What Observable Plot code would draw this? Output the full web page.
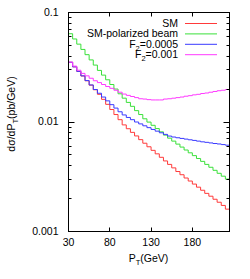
<!DOCTYPE html>
<html><head><meta charset="utf-8">
<script src="https://cdn.jsdelivr.net/npm/d3@7"></script>
<script src="https://cdn.jsdelivr.net/npm/@observablehq/plot@0.6"></script>
<style>body{margin:0;background:#fff} svg{display:block}</style>
</head><body><div id="c"></div>
<script>
// bin lower edges (GeV)
const pT = [30,35,40,45,50,55,60,65,70,75,80,85,90,95,100,105,110,115,120,125,130,135,140,145,150,155,160,165,170,175,180,185,190,195,200,205,210,215,220];
const sm = [0.0351,0.0319,0.0290,0.0263,0.0238,0.0217,0.0197,0.0179,0.0161,0.0145,0.0130,0.0117,0.0105,0.00941,0.00868,0.00804,0.00746,0.00690,0.00640,0.00594,0.00551,0.00512,0.00476,0.00441,0.00410,0.00381,0.00353,0.00330,0.00308,0.00289,0.00271,0.00254,0.00238,0.00223,0.00210,0.00197,0.00185,0.00173,0.00160];
const smPolarized = [0.0640,0.0573,0.0514,0.0460,0.0412,0.0369,0.0331,0.0296,0.0268,0.0243,0.0220,0.0200,0.0181,0.0165,0.0151,0.0139,0.0127,0.0117,0.0107,0.00998,0.00933,0.00871,0.00813,0.00759,0.00712,0.00669,0.00628,0.00590,0.00555,0.00523,0.00493,0.00464,0.00437,0.00410,0.00386,0.00362,0.00340,0.00320,0.00301];
const f2a = [0.0351,0.0319,0.0290,0.0264,0.0239,0.0218,0.0198,0.0183,0.0169,0.0156,0.0144,0.0134,0.0124,0.0116,0.0110,0.0105,0.0100,0.00961,0.00923,0.00888,0.00855,0.00825,0.00797,0.00771,0.00744,0.00729,0.00718,0.00708,0.00698,0.00688,0.00679,0.00669,0.00659,0.00652,0.00644,0.00636,0.00630,0.00622,0.00614];
const f2b = [0.0352,0.0324,0.0297,0.0278,0.0264,0.0251,0.0238,0.0229,0.0220,0.0211,0.0203,0.0195,0.0187,0.0180,0.0175,0.0171,0.0167,0.0163,0.0162,0.0160,0.0159,0.0159,0.0159,0.0162,0.0163,0.0165,0.0167,0.0169,0.0172,0.0174,0.0177,0.0179,0.0182,0.0184,0.0187,0.0190,0.0193,0.0195,0.0198];

const seriesNames = ["SM", "SM-polarized beam", "F2=0.0005", "F2=0.001"];
const seriesColors = ["#ff3a3a", "#3ae03a", "#3a3aff", "#ff3aff"];
const seriesValues = [sm, smPolarized, f2a, f2b];
const legendLabels = [["SM"], ["SM-polarized beam"], ["F", "2", "=0.0005"], ["F", "2", "=0.001"]];

const xTicks = [30, 80, 130, 180];
const yTicks = [0.001, 0.01, 0.1];
const yTickLabels = ["0.001", "0.01", "0.1"];
const yMinor = [0.002,0.003,0.004,0.005,0.006,0.007,0.008,0.009,0.02,0.03,0.04,0.05,0.06,0.07,0.08,0.09];

const binWidth = pT[1] - pT[0];
const rows = seriesNames.flatMap((name, k) => {
  const v = seriesValues[k];
  return [...pT.map((p, i) => ({x: p, y: v[i], s: name})),
          {x: pT[pT.length - 1] + binWidth, y: v[v.length - 1], s: name}];
});

const font = "'Liberation Sans', Arial, Helvetica, sans-serif";
const chart = Plot.plot({
  width: 250, height: 279,
  marginLeft: 68, marginRight: 21, marginTop: 12, marginBottom: 48,
  style: {fontFamily: font, fontSize: "10.5px", background: "#fff", color: "#000", overflow: "visible"},
  x: {domain: [30, 225]},
  y: {type: "log", domain: [0.001, 0.1]},
  color: {domain: seriesNames, range: seriesColors},
  marks: [
    Plot.axisX({ticks: xTicks, tickSize: 0, tickPadding: 7, label: null, tickFormat: d => String(d)}),
    Plot.axisY({ticks: yTicks, tickSize: 0, tickPadding: 10, label: null, tickFormat: d => yTickLabels[yTicks.indexOf(d)]}),
    Plot.line(rows, {x: "x", y: "y", z: "s", stroke: "s", curve: "step-after", strokeWidth: 1}),
    Plot.frame({stroke: "#000", strokeWidth: 1})
  ]
});
document.getElementById("c").appendChild(chart);

const sx = chart.scale("x"), sy = chart.scale("y");
const [L, R] = sx.range;
const [B, T] = sy.range;
const svg = d3.select(chart);
const g = svg.append("g").attr("stroke", "#000").attr("stroke-width", 1).attr("transform", "translate(0.5,0.5)");
function hTick(v, len) {
  const y = Math.round(sy.apply(v));
  g.append("line").attr("x1", L).attr("x2", L + len).attr("y1", y).attr("y2", y);
  g.append("line").attr("x1", R).attr("x2", R - len).attr("y1", y).attr("y2", y);
}
yTicks.forEach(v => hTick(v, 6));
yMinor.forEach(v => hTick(v, 3));
xTicks.forEach(v => {
  const x = Math.round(sx.apply(v));
  g.append("line").attr("x1", x).attr("x2", x).attr("y1", B).attr("y2", B - 4);
  g.append("line").attr("x1", x).attr("x2", x).attr("y1", T).attr("y2", T + 4);
});

// legend
const lg = svg.append("g").attr("font-family", font).attr("font-size", "10.5px");
legendLabels.forEach((parts, i) => {
  const yc = 23 + i * 10.4;
  const t = lg.append("text").attr("x", 178).attr("y", yc + 3.7).attr("text-anchor", "end").attr("fill", "#000");
  if (parts.length === 1) t.text(parts[0]);
  else {
    t.append("tspan").text(parts[0]);
    t.append("tspan").attr("dy", 3).attr("font-size", "7.5px").text(parts[1]);
    t.append("tspan").attr("dy", -3).text(parts[2]);
  }
  lg.append("line").attr("x1", 185).attr("x2", 217).attr("y1", yc + 0.5).attr("y2", yc + 0.5)
    .attr("stroke", seriesColors[i]).attr("stroke-width", 1);
});

// axis titles
const xt = svg.append("text").attr("x", (L + R) / 2).attr("y", 262).attr("text-anchor", "middle")
  .attr("font-family", font).attr("font-size", "10.5px");
xt.append("tspan").text("P");
xt.append("tspan").attr("dy", 3).attr("font-size", "7.5px").text("T");
xt.append("tspan").attr("dy", -3).text("(GeV)");

const yt = svg.append("text").attr("transform", "translate(14.5,114) rotate(-90)").attr("text-anchor", "middle")
  .attr("font-family", font).attr("font-size", "10.5px");
yt.append("tspan").text("dσ/dP");
yt.append("tspan").attr("dy", 3).attr("font-size", "7.5px").text("T");
yt.append("tspan").attr("dy", -3).text("(pb/GeV)");
</script>
</body></html>
